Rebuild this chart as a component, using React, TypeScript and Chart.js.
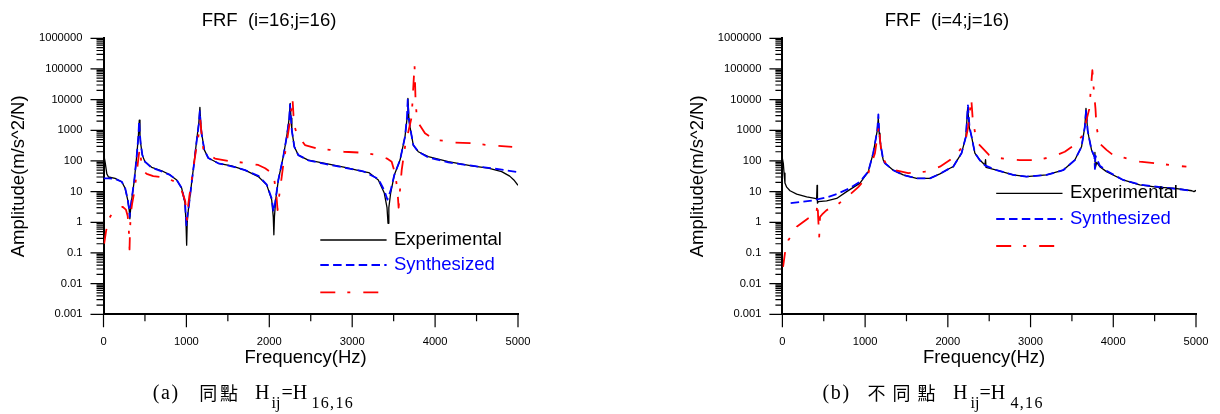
import React, { useEffect, useRef } from 'react';
import { Chart, registerables } from 'chart.js';

Chart.register(...registerables);

const FONT = "Arial, 'Liberation Sans', sans-serif";
const SERIF = "'Liberation Serif', 'Times New Roman', serif";
const CJK = "'Noto Sans CJK TC', 'Noto Sans CJK SC', sans-serif";

// ---- axis ticks ----
const xTickValues = [0, 1000, 2000, 3000, 4000, 5000];
const xTickLabels = ['0', '1000', '2000', '3000', '4000', '5000'];
const xSmallTickValues = [0, 500, 1000, 1500, 2000, 2500, 3000, 3500, 4000, 4500, 5000];
const yTickValues = [0.001, 0.01, 0.1, 1, 10, 100, 1000, 10000, 100000, 1000000];
const yTickLabels = ['0.001', '0.01', '0.1', '1', '10', '100', '1000', '10000', '100000', '1000000'];
const seriesNames = ['Experimental', 'Synthesized', ''];

// ---- (a) H16,16 ----
const leftExpFreq = [0, 5, 20, 40, 60, 140, 220, 260, 292, 310, 318, 326, 340, 372, 400, 420, 432, 440, 448, 468, 500, 581, 702, 802, 883, 943, 983, 995, 1003, 1010, 1023, 1052, 1092, 1124, 1150, 1163, 1172, 1184, 1216, 1264, 1385, 1546, 1707, 1867, 1969, 2029, 2048, 2055, 2062, 2077, 2109, 2169, 2210, 2240, 2252, 2262, 2272, 2302, 2350, 2470, 2672, 2913, 3134, 3200, 3315, 3387, 3420, 3432, 3442, 3464, 3508, 3577, 3637, 3662, 3672, 3684, 3697, 3737, 3797, 3918, 4159, 4441, 4642, 4803, 4900, 4950, 5000];
const leftExpAmp = [160, 150, 90, 38, 30, 27, 21, 13, 5.4, 2.5, 1.3, 2.5, 5.4, 24, 140, 600, 2160, 700, 380, 155, 95, 62, 48, 35, 24, 13, 4.2, 1.0, 0.18, 1.0, 2.5, 11, 84, 480, 1800, 5600, 1800, 800, 230, 125, 84, 69, 50, 31, 16.6, 5.4, 1.5, 0.39, 1.5, 5.4, 24, 140, 620, 2500, 7600, 2500, 1000, 290, 155, 107, 84, 62, 45, 42, 24, 9, 3, 0.93, 3, 9, 35, 107, 620, 2500, 11000, 2500, 1300, 330, 200, 138, 95, 69, 58, 45, 32, 24, 16];

const leftSynFreq = [0, 60, 140, 220, 260, 292, 308, 316, 324, 340, 372, 400, 420, 430, 440, 448, 468, 500, 581, 702, 802, 883, 943, 983, 1000, 1015, 1030, 1052, 1092, 1124, 1150, 1162, 1172, 1184, 1216, 1264, 1385, 1546, 1707, 1867, 1969, 2029, 2050, 2068, 2077, 2109, 2169, 2210, 2240, 2250, 2262, 2272, 2302, 2350, 2470, 2672, 2913, 3134, 3315, 3387, 3425, 3464, 3508, 3577, 3637, 3660, 3670, 3682, 3697, 3737, 3797, 3918, 4159, 4441, 4642, 4803, 5000];
const leftSynAmp = [27, 27, 26, 21, 13.5, 5.6, 2.8, 1.5, 2.8, 5.8, 24, 140, 600, 2000, 700, 380, 160, 95, 60, 46, 35, 24, 13, 4.5, 0.8, 2.0, 3.5, 11, 80, 450, 1600, 4200, 1600, 750, 230, 125, 84, 67, 50, 33, 17, 6, 2.2, 4, 6, 24, 140, 620, 2300, 6800, 2300, 1000, 290, 155, 105, 80, 60, 46, 26, 11, 5.5, 11, 35, 107, 620, 2500, 10000, 2500, 1300, 330, 200, 130, 90, 70, 60, 52, 43];

const leftRedFreq = [8, 30, 60, 100, 160, 230, 270, 292, 305, 314, 320, 330, 345, 372, 400, 425, 437, 447, 460, 490, 521, 600, 720, 762, 850, 923, 960, 985, 1000, 1008, 1018, 1035, 1060, 1092, 1116, 1144, 1168, 1180, 1204, 1260, 1345, 1500, 1707, 1867, 1950, 2008, 2035, 2060, 2085, 2100, 2115, 2135, 2170, 2210, 2250, 2280, 2292, 2310, 2330, 2430, 2590, 2731, 2900, 3134, 3315, 3420, 3476, 3516, 3545, 3560, 3572, 3597, 3637, 3677, 3717, 3752, 3764, 3780, 3800, 3878, 3950, 4000, 4100, 4223, 4430, 4640, 4930];
const leftRedAmp = [0.2, 0.5, 1.2, 1.9, 2.6, 3.2, 2.6, 1.6, 0.6, 0.13, 0.6, 2, 4, 10, 40, 150, 250, 150, 75, 45, 38, 32, 29, 27, 22, 15, 8, 5, 2, 1.2, 3, 7, 20, 84, 230, 620, 2100, 900, 250, 170, 120, 100, 87, 74, 58, 45, 40, 25, 8, 2.5, 6, 15, 80, 400, 2000, 11000, 3000, 1200, 800, 330, 250, 230, 200, 185, 155, 120, 95, 40, 12, 3, 8, 50, 290, 900, 2700, 135000, 10000, 2500, 1700, 800, 600, 480, 460, 400, 380, 330, 290];

// ---- (b) H4,16 ----
const rightExpFreq = [0, 11, 20, 31, 52, 92, 173, 294, 394, 414, 419, 424, 434, 535, 656, 777, 938, 1038, 1098, 1147, 1159, 1170, 1179, 1200, 1219, 1240, 1340, 1461, 1622, 1783, 1904, 2025, 2065, 2166, 2218, 2240, 2260, 2287, 2327, 2387, 2448, 2456, 2462, 2589, 2790, 2951, 3193, 3394, 3535, 3616, 3656, 3670, 3690, 3704, 3737, 3770, 3778, 3783, 3800, 3837, 3918, 4119, 4320, 4522, 4723, 4950, 4975, 5000];
const rightExpAmp = [120, 84, 40, 19, 14, 10.7, 8.3, 6.8, 6, 5.8, 16, 4.2, 4.7, 5.0, 6, 10, 19, 45, 180, 1000, 2500, 800, 480, 200, 107, 84, 50, 35, 27, 27, 38, 58, 65, 180, 620, 5500, 1200, 620, 180, 107, 74, 110, 62, 50, 35, 31, 35, 50, 107, 290, 1300, 5200, 1000, 620, 230, 140, 190, 60, 90, 65, 45, 24, 16.6, 14, 13, 10.7, 10, 11];

const rightSynFreq = [100, 253, 374, 535, 656, 817, 938, 1038, 1098, 1147, 1160, 1170, 1179, 1219, 1240, 1340, 1461, 1622, 1783, 1904, 2025, 2065, 2166, 2218, 2243, 2262, 2287, 2327, 2387, 2448, 2589, 2790, 2951, 3193, 3394, 3535, 3616, 3656, 3672, 3690, 3704, 3737, 3772, 3778, 3784, 3837, 3918, 4119, 4320, 4575, 4800, 4950];
const rightSynAmp = [4.2, 4.7, 5.2, 6.5, 8.3, 13, 21, 45, 180, 1000, 3300, 900, 480, 107, 84, 50, 35, 27, 27, 38, 58, 65, 180, 620, 6500, 1300, 620, 180, 105, 72, 50, 35, 31, 35, 50, 107, 290, 1300, 4800, 1000, 620, 230, 140, 55, 150, 70, 48, 24, 17, 14, 12, 10.5];

const rightRedFreq = [8, 20, 31, 71, 100, 173, 313, 410, 425, 432, 445, 455, 480, 535, 656, 796, 917, 958, 1038, 1078, 1119, 1159, 1171, 1180, 1200, 1260, 1360, 1521, 1723, 1904, 2025, 2146, 2206, 2246, 2283, 2300, 2330, 2367, 2500, 2609, 2871, 3072, 3193, 3314, 3414, 3555, 3616, 3656, 3710, 3747, 3765, 3785, 3797, 3837, 3918, 3998, 4140, 4320, 4522, 4683, 4884];
const rightRedAmp = [0.035, 0.06, 0.1, 0.26, 0.34, 0.72, 1.35, 1.8, 4.5, 1.5, 0.34, 1.5, 1.8, 2.5, 3.6, 7.2, 14, 19, 40, 84, 180, 1000, 1500, 500, 150, 74, 50, 40, 45, 65, 107, 230, 370, 1300, 11000, 2500, 800, 370, 155, 125, 107, 107, 125, 155, 200, 370, 620, 1300, 5000, 91000, 20000, 5000, 1300, 370, 230, 155, 125, 95, 84, 74, 65];

const zip = (f: number[], a: number[]) => f.map((x, i) => ({ x, y: a[i] }));

type LegendPos = { x0: number; x1: number; tx: number; ys: number[] };

function overlayPlugin(legend: LegendPos) {
  return {
    id: 'frfOverlay',
    afterDraw(chart: any) {
      const ctx = chart.ctx;
      const { left, bottom } = chart.chartArea;
      const ys = chart.scales.y;
      const xs = chart.scales.x;
      ctx.save();
      ctx.strokeStyle = '#000';
      ctx.lineWidth = 1.2;
      ctx.setLineDash([]);
      ctx.beginPath();
      yTickValues.forEach((v, i) => {
        const p = ys.getPixelForValue(v);
        ctx.moveTo(left - 13, p);
        ctx.lineTo(left, p);
        if (i < yTickValues.length - 1) {
          for (let k = 2; k <= 9; k++) {
            const q = ys.getPixelForValue(v * k);
            ctx.moveTo(left - 7, q);
            ctx.lineTo(left, q);
          }
        }
      });
      xSmallTickValues.forEach((v) => {
        const p = xs.getPixelForValue(v);
        const len = xTickValues.includes(v) ? 13 : 7;
        ctx.moveTo(p, bottom);
        ctx.lineTo(p, bottom + len);
      });
      ctx.stroke();

      ctx.font = `18.5px ${FONT}`;
      ctx.textBaseline = 'middle';
      ctx.textAlign = 'left';
      chart.data.datasets.forEach((ds: any, i: number) => {
        const y = legend.ys[i];
        ctx.beginPath();
        ctx.setLineDash(ds.borderDash || []);
        ctx.strokeStyle = ds.borderColor;
        ctx.lineWidth = ds.borderWidth;
        ctx.moveTo(legend.x0, y);
        ctx.lineTo(legend.x1, y);
        ctx.stroke();
        if (ds.label) {
          ctx.fillStyle = ds.borderColor;
          ctx.fillText(ds.label, legend.tx, y);
        }
      });
      ctx.restore();
    },
  };
}

type FrfProps = {
  left: number;
  width: number;
  height: number;
  title: string;
  axisWidth: number;
  padLeft: number;
  padRight: number;
  yTitlePad: number;
  exp: [number[], number[]];
  syn: [number[], number[]];
  red: [number[], number[]];
  legend: LegendPos;
};

function FrfChart(p: FrfProps) {
  const ref = useRef<HTMLCanvasElement | null>(null);
  useEffect(() => {
    if (!ref.current) return;
    const tickFont = { family: FONT, size: 11.2, weight: 'normal' as const };
    const titleFont = { family: FONT, size: 18.5, weight: 'normal' as const };
    const chart = new Chart(ref.current, {
      type: 'line',
      data: {
        datasets: [
          { label: seriesNames[0], data: zip(p.exp[0], p.exp[1]), borderColor: '#000000', borderWidth: 1.3, order: 3 },
          { label: seriesNames[1], data: zip(p.syn[0], p.syn[1]), borderColor: '#0000ff', borderWidth: 1.8, borderDash: [8.5, 4.3], order: 2 },
          { label: seriesNames[2], data: zip(p.red[0], p.red[1]), borderColor: '#ff0000', borderWidth: 1.8, borderDash: [15, 12, 3, 13], order: 1 },
        ],
      },
      options: {
        animation: false,
        responsive: false,
        devicePixelRatio: 1,
        layout: { padding: { left: p.padLeft, right: p.padRight, top: 0, bottom: 0 } },
        elements: {
          point: { radius: 0 },
          line: { tension: 0, fill: false, borderJoinStyle: 'round', borderCapStyle: 'butt' },
        },
        plugins: {
          legend: { display: false },
          tooltip: { enabled: false },
          title: {
            display: true,
            text: p.title,
            color: '#000',
            font: titleFont,
            padding: { top: 9.4, bottom: 6.7 },
          },
        },
        scales: {
          x: {
            type: 'linear',
            min: 0,
            max: 5000,
            afterBuildTicks: (s: any) => {
              s.ticks = xTickValues.map((v) => ({ value: v }));
            },
            afterFit: (s: any) => {
              s.height = p.height - 314.3;
            },
            grid: {
              display: true,
              drawOnChartArea: false,
              drawTicks: true,
              tickLength: 21,
              color: 'rgba(0,0,0,0)',
            },
            border: { display: true, color: '#000', width: 2 },
            ticks: {
              callback: (_v: any, i: number) => xTickLabels[i],
              color: '#000',
              font: tickFont,
              padding: 0,
              maxRotation: 0,
              autoSkip: false,
            },
            title: {
              display: true,
              text: 'Frequency(Hz)  ',
              color: '#000',
              font: titleFont,
              padding: { top: 0, bottom: p.height - 358.3 - 11.1 },
            },
          },
          y: {
            type: 'logarithmic',
            min: 0.001,
            max: 1000000,
            afterBuildTicks: (s: any) => {
              s.ticks = yTickValues.map((v) => ({ value: v, major: true }));
            },
            afterFit: (s: any) => {
              s.width = p.axisWidth;
            },
            grid: { display: false, drawTicks: false },
            border: { display: true, color: '#000', width: 2 },
            ticks: {
              callback: (_v: any, i: number) => yTickLabels[i],
              color: '#000',
              font: tickFont,
              padding: 21,
              autoSkip: false,
            },
            title: {
              display: true,
              text: 'Amplitude(m/s^2/N)',
              color: '#000',
              font: titleFont,
              padding: { top: p.yTitlePad, bottom: 0 },
            },
          },
        },
      } as any,
      plugins: [overlayPlugin(p.legend)],
    } as any);
    return () => chart.destroy();
  }, []);
  return (
    <canvas
      ref={ref}
      width={p.width}
      height={p.height}
      style={{ position: 'absolute', left: p.left, top: 0, width: p.width, height: p.height }}
    />
  );
}

export default function App() {
  const main = { fontFamily: SERIF, fontSize: 20, fill: '#000' } as const;
  const sub = { fontFamily: SERIF, fontSize: 16, fill: '#000' } as const;
  const cjk = { fontFamily: CJK, fontSize: 18, fill: '#000' } as const;
  const base = 399.4;
  const cjkBase = 400.4;
  const subBase = 407.8;
  return (
    <div style={{ position: 'absolute', left: 0, top: 0, width: 1220, height: 414, background: '#fff', overflow: 'hidden' }}>
      <FrfChart
        left={0}
        width={538}
        height={380}
        title="FRF  (i=16;j=16)"
        axisWidth={83.5}
        padLeft={20}
        padRight={20}
        yTitlePad={-12.2}
        exp={[leftExpFreq, leftExpAmp]}
        syn={[leftSynFreq, leftSynAmp]}
        red={[leftRedFreq, leftRedAmp]}
        legend={{ x0: 320.3, x1: 386.6, tx: 394, ys: [240, 265, 292.3] }}
      />
      <FrfChart
        left={680}
        width={534}
        height={380}
        title="FRF  (i=4;j=16)"
        axisWidth={84.4}
        padLeft={18}
        padRight={18}
        yTitlePad={-11.2}
        exp={[rightExpFreq, rightExpAmp]}
        syn={[rightSynFreq, rightSynAmp]}
        red={[rightRedFreq, rightRedAmp]}
        legend={{ x0: 316.2, x1: 382.5, tx: 390, ys: [193.3, 219, 246] }}
      />
      <svg width={1220} height={414} style={{ position: 'absolute', left: 0, top: 0, pointerEvents: 'none' }}>
        <text x={152.7} y={base} style={{ ...main, letterSpacing: '1.7px' }}>(a)</text>
        <text x={199.3} y={cjkBase} style={{ ...cjk, letterSpacing: '2.7px' }}>同點</text>
        <text x={255} y={base} style={main}>H</text>
        <text x={271.5} y={subBase} style={sub}>ij</text>
        <text x={281.6} y={base} style={main}>=H</text>
        <text x={311.5} y={subBase} style={{ ...sub, letterSpacing: '1.3px' }}>16,16</text>

        <text x={822.5} y={base} style={{ ...main, letterSpacing: '1.7px' }}>(b)</text>
        <text x={867.5} y={cjkBase} style={{ ...cjk, letterSpacing: '7px' }}>不同點</text>
        <text x={953} y={base} style={main}>H</text>
        <text x={970.5} y={subBase} style={sub}>ij</text>
        <text x={979.5} y={base} style={main}>=H</text>
        <text x={1010.5} y={subBase} style={{ ...sub, letterSpacing: '1.3px' }}>4,16</text>
      </svg>
    </div>
  );
}
